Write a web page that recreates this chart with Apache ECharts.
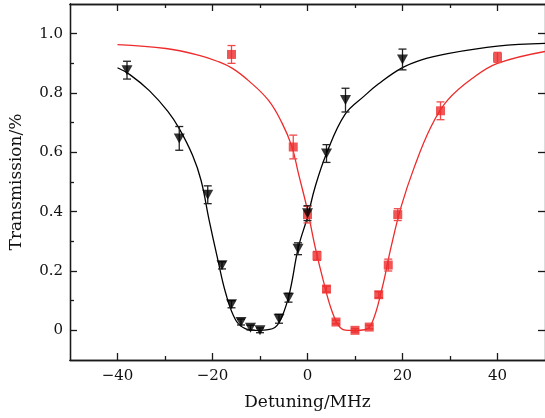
<!DOCTYPE html>
<html>
<head>
<meta charset="utf-8">
<script src="https://cdn.jsdelivr.net/npm/echarts@6/dist/echarts.min.js"></script>
<style>
html,body{margin:0;padding:0;background:#fff;}
#c{width:545px;height:418px;}
</style>
</head>
<body>
<div id="c"></div>
<script>
// Measured data (black triangles)
const blackX = [-38, -27, -21, -18, -16, -14, -12, -10, -6, -4, -2, 0, 4, 8, 20];
const blackY = [0.877, 0.647, 0.457, 0.219, 0.088, 0.028, 0.009, 0.0, 0.039, 0.11, 0.275, 0.395, 0.596, 0.776, 0.913];
const blackErr = [0.03, 0.04, 0.03, 0.012, 0.012, 0.01, 0.008, 0.008, 0.015, 0.015, 0.02, 0.025, 0.03, 0.04, 0.035];

// Measured data (red squares)
const redX = [-16, -3, 0, 2, 4, 6, 10, 13, 15, 17, 19, 28, 40];
const redY = [0.93, 0.618, 0.39, 0.251, 0.139, 0.028, 0.0, 0.011, 0.12, 0.22, 0.39, 0.74, 0.92];
const redErr = [0.03, 0.04, 0.028, 0.015, 0.01, 0.006, 0.006, 0.006, 0.01, 0.02, 0.02, 0.03, 0.017];

// Fit curves
const blackFitX = [-40, -37.4, -33.3, -29.4, -27, -24.2, -22.4, -20.7, -19, -17.2, -15.1, -13, -11, -8, -6.1, -4, -1.9, 0, 1.6, 4, 7.9, 12.1, 14.9, 19.7, 24, 29.5, 40, 50];
const blackFitY = [0.885, 0.862, 0.808, 0.738, 0.68, 0.59, 0.505, 0.371, 0.247, 0.124, 0.034, 0.005, 0.0, 0.003, 0.023, 0.112, 0.281, 0.382, 0.483, 0.596, 0.728, 0.792, 0.83, 0.883, 0.912, 0.933, 0.958, 0.967];

const redFitX = [-40, -29.8, -22.8, -19, -15.8, -12.3, -8.2, -5.4, -3.3, -1.9, 0, 1.6, 3.3, 5.1, 6.8, 8.5, 10, 12, 13.5, 15.6, 17.6, 19.7, 22.5, 26, 29.5, 35.1, 40, 50];
const redFitY = [0.963, 0.95, 0.927, 0.907, 0.883, 0.84, 0.775, 0.70, 0.62, 0.528, 0.405, 0.281, 0.169, 0.067, 0.011, 0.0, 0.0, 0.002, 0.022, 0.135, 0.281, 0.416, 0.551, 0.686, 0.776, 0.854, 0.9, 0.94];

// Ticks
const xMajor = [-40, -20, 0, 20, 40];
const xMinor = [-30, -10, 10, 30];
const yMajor = [0, 0.2, 0.4, 0.6, 0.8, 1.0];
const yMinor = [0.1, 0.3, 0.5, 0.7, 0.9];

const FONT = 'DejaVu Serif';
const AX = '#1a1a1a';
const RED = '#ee2a2a';
const RED_ERR = '#f04a4a';
const BLACK = '#000000';

function zip(xs, ys) { return xs.map((x, i) => [x, ys[i]]); }
function zip3(xs, ys, es) { return xs.map((x, i) => [x, ys[i], es[i]]); }

function errRender(color) {
  return function (params, api) {
    const x = api.value(0), y = api.value(1), e = api.value(2);
    const t = api.coord([x, y + e]);
    const b = api.coord([x, y - e]);
    const w = 4;
    const st = { stroke: color, lineWidth: 1.3 };
    return {
      type: 'group',
      children: [
        { type: 'line', shape: { x1: t[0], y1: t[1], x2: b[0], y2: b[1] }, style: st },
        { type: 'line', shape: { x1: t[0] - w, y1: t[1], x2: t[0] + w, y2: t[1] }, style: st },
        { type: 'line', shape: { x1: b[0] - w, y1: b[1], x2: b[0] + w, y2: b[1] }, style: st }
      ]
    };
  };
}

const axisLineStyle = { color: AX, width: 1.3 };

function xAx(pos, ticks, len, labels) {
  return {
    type: 'value', position: pos, min: -50, max: 50,
    axisLine: { show: true, lineStyle: axisLineStyle, onZero: false },
    axisTick: { show: true, inside: true, length: len, customValues: ticks, lineStyle: { color: AX, width: 1.3 } },
    axisLabel: labels ? {
      show: true, customValues: ticks, fontFamily: FONT, fontSize: 15, color: '#111', margin: 9,
      formatter: v => (v < 0 ? '\u2212' + Math.abs(v) : String(v))
    } : { show: false },
    splitLine: { show: false }
  };
}
function yAx(pos, ticks, len, labels) {
  return {
    type: 'value', position: pos, min: -0.1, max: 1.1,
    axisLine: { show: true, lineStyle: axisLineStyle, onZero: false },
    axisTick: { show: true, inside: true, length: len, customValues: ticks, lineStyle: { color: AX, width: 1.3 } },
    axisLabel: labels ? {
      show: true, customValues: ticks, fontFamily: FONT, fontSize: 15, color: '#111', margin: 7,
      formatter: v => (Math.abs(v) < 1e-9 ? '0' : v.toFixed(1))
    } : { show: false },
    splitLine: { show: false }
  };
}

const xMain = xAx('bottom', xMajor, 7, true);
xMain.name = 'Detuning/MHz';
xMain.nameLocation = 'middle';
xMain.nameGap = 34;
xMain.nameTextStyle = { fontFamily: FONT, fontSize: 17, color: '#111' };

const yMain = yAx('left', yMajor, 7, true);
yMain.name = 'Transmission/%';
yMain.nameLocation = 'middle';
yMain.nameGap = 45;
yMain.nameTextStyle = { fontFamily: FONT, fontSize: 17, color: '#111' };

const chart = echarts.init(document.getElementById('c'), null, { renderer: 'canvas' });
chart.setOption({
  animation: false,
  backgroundColor: '#fff',
  grid: { left: 69, top: 4, width: 479, height: 356, containLabel: false },
  xAxis: [
    xMain,
    xAx('bottom', xMinor, 4, false),
    xAx('top', xMajor, 7, false),
    xAx('top', xMinor, 4, false)
  ],
  yAxis: [
    yMain,
    yAx('left', yMinor, 4, false),
    yAx('right', yMajor, 7, false)
  ],
  series: [
    {
      type: 'line', data: zip(redFitX, redFitY), xAxisIndex: 0, yAxisIndex: 0,
      smooth: 0.4, showSymbol: false, symbol: 'none',
      lineStyle: { color: RED, width: 1.3 }, z: 2
    },
    {
      type: 'line', data: zip(blackFitX, blackFitY), xAxisIndex: 0, yAxisIndex: 0,
      smooth: 0.4, showSymbol: false, symbol: 'none',
      lineStyle: { color: BLACK, width: 1.3 }, z: 2
    },
    {
      type: 'custom', data: zip3(redX, redY, redErr), xAxisIndex: 0, yAxisIndex: 0,
      renderItem: errRender(RED_ERR), z: 3
    },
    {
      type: 'custom', data: zip3(blackX, blackY, blackErr), xAxisIndex: 0, yAxisIndex: 0,
      renderItem: errRender('#222'), z: 3
    },
    {
      type: 'scatter', data: zip(redX, redY), xAxisIndex: 0, yAxisIndex: 0,
      symbol: 'rect', symbolSize: 9, itemStyle: { color: RED }, z: 4
    },
    {
      type: 'scatter', data: zip(blackX, blackY), xAxisIndex: 0, yAxisIndex: 0,
      symbol: 'triangle', symbolRotate: 180, symbolSize: [11, 10], itemStyle: { color: BLACK }, z: 5
    }
  ]
});
</script>
</body>
</html>
